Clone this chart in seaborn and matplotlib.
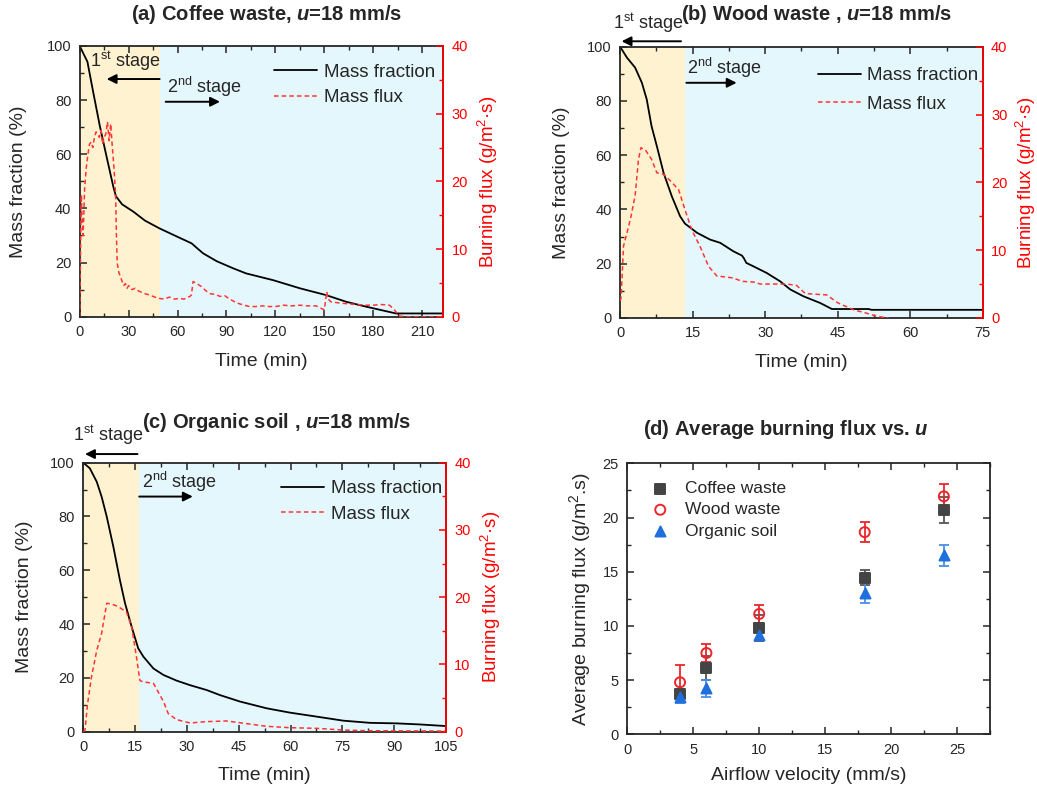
import matplotlib
matplotlib.use("Agg")
import matplotlib.pyplot as plt
from matplotlib.ticker import MultipleLocator
import seaborn as sns

# (a) coffee waste, mass fraction (%) and burning flux (g/m2.s) vs time (min)
t_mf_a = [0, 2, 4.7, 8.4, 12.4, 16.5, 20.6, 22.2, 26, 32.9, 40, 49, 60, 68.6, 72,
          75.7, 84, 94, 102, 118.6, 135, 151, 163.5, 175.7, 194, 223]
mf_a = [100, 97.5, 94.2, 82.5, 70.2, 59, 48, 44.5, 41.5, 38.8, 35.5, 32.6, 29.5, 27.1, 25.3,
        23.4, 20.5, 17.9, 16, 13.5, 10.5, 8, 5.5, 3.7, 1.2, 1.2]
t_fx_a = [0, 0.5, 1, 1.5, 2, 2.5, 3, 4, 5, 6,
          7, 8, 9, 10, 11, 12, 13, 14, 15, 16,
          17, 18, 19, 20, 21, 22, 22.5, 23, 24, 25,
          26, 27, 28, 29, 30, 32, 34, 36, 38, 40,
          43, 46, 49, 52, 55, 58, 61, 64, 67.5, 68.5,
          69.5, 71, 73, 75, 77, 80, 83, 86, 89, 92,
          95, 98, 101, 104, 108, 112, 116, 120, 125, 130,
          135, 140, 145, 150, 151.5, 152.5, 154, 157, 160, 165,
          170, 175, 180, 185, 190, 193, 196, 200, 210, 222]
fx_a = [0, 10, 18, 14, 12, 15, 19, 22, 24, 25.5,
        25.8, 25, 26.5, 27.3, 27, 26.5, 27.5, 25.5, 26.5, 27,
        28.8, 26, 28.5, 25, 22, 18, 12, 7.9, 6.5, 5.9,
        5.2, 4.6, 4.9, 4.2, 4.6, 4.0, 4.2, 3.8, 3.6, 3.4,
        3.2, 2.9, 2.7, 2.6, 2.9, 2.6, 2.7, 2.6, 3.0, 3.2,
        5.2, 5.0, 4.7, 4.4, 3.9, 3.4, 3.3, 3.0, 3.1, 2.6,
        2.2, 1.9, 1.7, 1.5, 1.5, 1.6, 1.5, 1.5, 1.7, 1.6,
        1.7, 1.6, 1.6, 1.0, 3.7, 2.6, 2.2, 2.1, 2.0, 1.9,
        1.8, 1.7, 1.7, 1.8, 1.7, 1.0, 0.1, 0.0, 0.0, 0.0]

# (b) wood waste
t_mf_b = [0, 1.4, 3.1, 4.5, 5.5, 6.5, 7.6, 9, 10.7, 12.4, 13.4, 15.9, 18.6, 20.7, 23.4,
          25.2, 25.6, 26.1, 27.6, 30.3, 33.1, 33.8, 35.2, 37.9, 41.4, 43.8, 51.4, 52, 75]
mf_b = [100, 96, 92.3, 86.7, 80.6, 70.7, 63.3, 53.4, 44.8, 37.5, 34.8, 31.4, 28.9, 27.7, 24.6,
        23, 22, 20.3, 19, 16.6, 13.5, 12.5, 10.5, 8, 5.5, 3.3, 3.3, 3.0, 3.0]
t_fx_b = [0, 0.2, 0.7, 1.4, 2.1, 3.1, 3.8, 4.3, 5.2, 6.5, 7.6, 9, 10.7, 12.1, 13.4, 14.8,
          16.5, 18.3, 20, 23.4, 25.2, 27.6, 29, 34.5, 36.5, 38.3, 42.7, 45.1, 48.3, 51, 53, 55.5]
fx_b = [2.5, 3, 10.6, 12.5, 14.5, 18, 23.4, 25.1, 24.8, 23.4, 21.4, 21.2, 20, 18.9, 16, 13,
        10.6, 7.6, 6.2, 5.9, 5.4, 5.3, 5, 5, 4.8, 3.6, 3.4, 2.2, 1.2, 0.7, 0.25, 0]

# (c) organic soil
t_mf_c = [0, 1.9, 3.9, 5.3, 6.8, 8.7, 10.6, 12.1, 14, 15.9, 17.4, 20.3, 23.2, 27, 30.9,
          35.7, 39.6, 45.4, 53.1, 59.8, 67.6, 75.3, 83, 90.7, 97.5, 105]
mf_c = [100, 97.9, 92.9, 87.4, 79.9, 68.8, 56.4, 47.7, 39, 31, 27.9, 23.5, 21.1, 19, 17.3,
        15.5, 13.6, 11.2, 8.7, 7.1, 5.6, 4.1, 3.3, 3.1, 2.7, 2.1]
t_fx_c = [0, 0.5, 1.2, 2.4, 3.9, 5.3, 6.8, 8.2, 10.1, 12.5, 14, 15.4, 16.4, 17.4, 20.3,
          21.7, 23.2, 24.6, 27, 30.9, 35.7, 41.5, 47.3, 53.1, 59.8, 67.6, 75.3, 82, 105]
fx_c = [0, 0.2, 4, 8.2, 12.1, 14.6, 19.1, 19, 18.6, 17.8, 15.6, 11.1, 7.6, 7.4, 7.2,
        5.9, 4.5, 2.7, 1.8, 1.3, 1.5, 1.6, 1.2, 0.8, 0.6, 0.5, 0.25, 0.15, 0.1]

# (d) average burning flux vs airflow velocity
u = [4, 6, 10, 18, 24]
coffee = [3.7, 6.1, 9.8, 14.45, 20.65]
coffee_err = [0.45, 1.1, 1.2, 0.7, 1.2]
wood = [4.8, 7.5, 11.1, 18.65, 21.95]
wood_err = [1.55, 0.85, 0.8, 0.95, 1.15]
organic = [3.45, 4.25, 9.15, 13.05, 16.5]
organic_err = [0.6, 0.8, 0.45, 0.9, 1.0]

sns.set_theme(style="ticks")
plt.rcParams['font.family'] = ['Liberation Sans', 'DejaVu Sans']
plt.rcParams.update({
    'mathtext.fontset': 'custom',
    'mathtext.rm': 'Liberation Sans',
    'mathtext.it': 'Liberation Sans:italic',
    'mathtext.bf': 'Liberation Sans:bold',
    'mathtext.bfit': 'Liberation Sans:italic:bold',
    'axes.linewidth': 1.3,
})

RED = '#ff0000'
FLUX_RED = '#ff3535'
ORANGE_BG = '#fff2d0'
CYAN_BG = '#e4f7fd'

fig = plt.figure(figsize=(10.37, 7.89), dpi=100)


def ticks_in(ax, **kw):
    ax.tick_params(which='both', direction='in', labelsize=10.5, pad=6, **kw)
    ax.tick_params(which='major', length=5, width=1.1)
    ax.tick_params(which='minor', length=3, width=1.0)


def time_panel(rect, t_mf, mf, t_fx, fx, split, xmax, xmaj, s1, a1, s2, a2, leg_xy, spacing, ycoords):
    ax = fig.add_axes(rect)
    ax.axvspan(0, split, color=ORANGE_BG, lw=0, zorder=0)
    ax.axvspan(split, xmax, color=CYAN_BG, lw=0, zorder=0)
    sns.lineplot(x=t_mf, y=mf, ax=ax, color='black', lw=1.3, estimator=None, sort=False,
                 label='Mass fraction', legend=False)
    ax.set_xlim(0, xmax)
    ax.set_ylim(0, 100)
    ax.xaxis.set_major_locator(MultipleLocator(xmaj))
    ax.xaxis.set_minor_locator(MultipleLocator(xmaj / 2))
    ax.yaxis.set_major_locator(MultipleLocator(20))
    ax.yaxis.set_minor_locator(MultipleLocator(10))
    ticks_in(ax, top=True, right=False)
    ax.set_xlabel('Time (min)', fontsize=14)
    ax.set_ylabel('Mass fraction (%)', fontsize=14)
    ax.xaxis.set_label_coords(0.5, ycoords[0])
    ax.yaxis.set_label_coords(ycoords[1], 0.5)

    ax2 = ax.twinx()
    sns.lineplot(x=t_fx, y=fx, ax=ax2, color=FLUX_RED, lw=1.1, estimator=None, sort=False,
                 linestyle=(0, (3, 2)), label='Mass flux', legend=False)
    ax2.set_ylim(0, 40)
    ax2.yaxis.set_major_locator(MultipleLocator(10))
    ax2.yaxis.set_minor_locator(MultipleLocator(5))
    ticks_in(ax2, colors=RED)
    ax2.spines['right'].set_color(RED)
    for s in ('left', 'top', 'bottom'):
        ax2.spines[s].set_visible(False)
    ax2.set_ylabel('Burning flux (g/m$^{\\mathregular{2}}$\u00b7s)', fontsize=13.5, color=RED)
    ax2.yaxis.set_label_coords(ycoords[2], 0.5)

    # stage annotations
    ax.text(s1[0], s1[1], '1$^{\\mathregular{st}}$ stage', fontsize=13, ha='left', va='center')
    ax.annotate('', xy=a1[1], xytext=a1[0], annotation_clip=False,
                arrowprops=dict(arrowstyle='-|>', color='black', lw=1.4, mutation_scale=14,
                                shrinkA=0, shrinkB=0))
    ax.text(s2[0], s2[1], '2$^{\\mathregular{nd}}$ stage', fontsize=13, ha='left', va='center')
    ax.annotate('', xy=a2[1], xytext=a2[0], annotation_clip=False,
                arrowprops=dict(arrowstyle='-|>', color='black', lw=1.4, mutation_scale=14,
                                shrinkA=0, shrinkB=0))

    h1, l1 = ax.get_legend_handles_labels()
    h2, l2 = ax2.get_legend_handles_labels()
    ax2.legend(h1 + h2, l1 + l2, loc='upper left', bbox_to_anchor=leg_xy, frameon=False,
               fontsize=13.5, handlelength=2.3, handletextpad=0.35, borderpad=0,
               borderaxespad=0, labelspacing=spacing)
    return ax


time_panel([0.0769, 0.5986, 0.3506, 0.3431], t_mf_a, mf_a, t_fx_a, fx_a, 49.2, 223, 30,
           (6.3, 94.5), ((49, 87.8), (16.5, 87.8)), (53.3, 85), ((52.7, 79.4), (86, 79.4)),
           (0.534, 0.935), 0.45, (-0.133, -0.145, 1.09))
time_panel([0.598, 0.597, 0.3497, 0.3438], t_mf_b, mf_b, t_fx_b, fx_b, 13.4, 75, 15,
           (-1.4, 108.6), ((12.6, 102), (0.3, 102)), (13.8, 92), ((13.7, 86.7), (24.1, 86.7)),
           (0.545, 0.925), 0.6, (-0.133, -0.138, 1.086))
time_panel([0.0803, 0.0726, 0.3498, 0.341], t_mf_c, mf_c, t_fx_c, fx_c, 16.2, 105, 15,
           (-2.9, 110.3), ((15.7, 103.2), (0.5, 103.2)), (17.1, 92.9), ((16.2, 87.4), (31.7, 87.4)),
           (0.545, 0.935), 0.45, (-0.13, -0.138, 1.09))

# (d)
axd = fig.add_axes([0.6049, 0.0693, 0.3498, 0.3435])
series = [('Coffee waste', coffee, coffee_err, 's', '#444444', '#444444', '#555555'),
          ('Wood waste', wood, wood_err, 'o', 'none', '#e8262b', '#e8262b'),
          ('Organic soil', organic, organic_err, '^', '#1f6fdc', '#1f6fdc', '#4a8ee6')]
for name, vals, err, mk, fc, ec, errc in series:
    axd.errorbar(u, vals, yerr=err, fmt='none', ecolor=errc, elinewidth=1.3, capsize=3.5,
                 capthick=1.3, zorder=2)
    sns.scatterplot(x=u, y=vals, ax=axd, marker=mk, s=52, facecolor=fc, edgecolor=ec,
                    linewidth=1.4, label=name, zorder=3)
axd.set_xlim(0, 27.5)
axd.set_ylim(0, 25)
axd.xaxis.set_major_locator(MultipleLocator(5))
axd.xaxis.set_minor_locator(MultipleLocator(2.5))
axd.yaxis.set_major_locator(MultipleLocator(5))
axd.yaxis.set_minor_locator(MultipleLocator(2.5))
ticks_in(axd, top=True, right=True)
axd.set_xlabel('Airflow velocity (mm/s)', fontsize=14)
axd.set_ylabel('Average burning flux (g/m$^{\\mathregular{2}}$.s)', fontsize=14)
axd.xaxis.set_label_coords(0.5, -0.12)
axd.yaxis.set_label_coords(-0.094, 0.5)
axd.legend(loc='upper left', bbox_to_anchor=(0.067, 0.935), frameon=False, fontsize=12.5,
           handlelength=1.0, handletextpad=0.9, borderpad=0, borderaxespad=0, labelspacing=0.35)

# titles
title_kw = dict(ha='center', va='center', fontsize=14.5, fontweight='bold')
fig.text(266.7 / 1037, 1 - 15 / 789, '(a) Coffee waste, $\\mathbfit{u}$=18 mm/s', **title_kw)
fig.text(817 / 1037, 1 - 14 / 789, '(b) Wood waste , $\\mathbfit{u}$=18 mm/s', **title_kw)
fig.text(276.7 / 1037, 1 - 422.7 / 789, '(c) Organic soil , $\\mathbfit{u}$=18 mm/s', **title_kw)
fig.text(785.8 / 1037, 1 - 429.3 / 789, '(d) Average burning flux vs. $\\mathbfit{u}$', **title_kw)

fig.savefig('out.png', dpi=100)
